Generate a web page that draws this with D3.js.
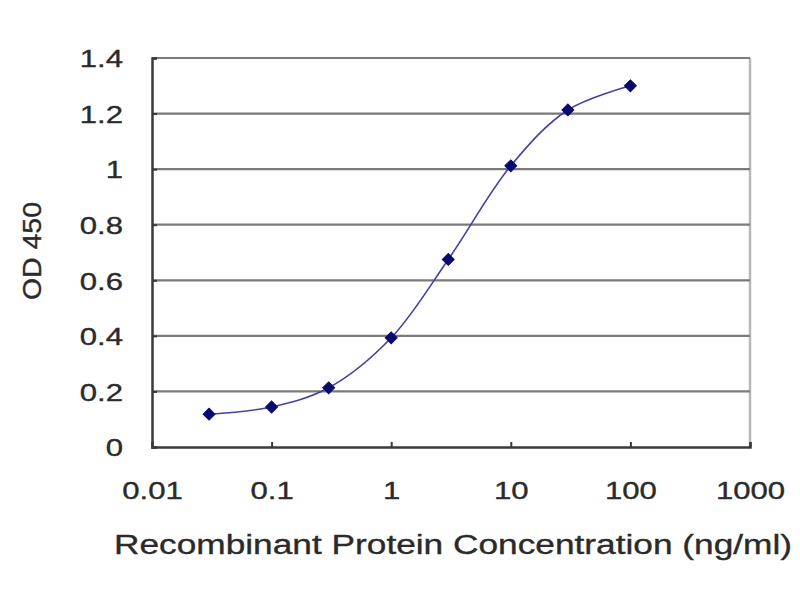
<!DOCTYPE html>
<html>
<head>
<meta charset="utf-8">
<script src="https://cdn.jsdelivr.net/npm/d3@7"></script>
<style>
  html, body { margin: 0; padding: 0; background: #fff; }
  svg text { font-family: "Liberation Sans", Arial, sans-serif; fill: #2a2a2a; }
</style>
</head>
<body>
<svg id="chart" width="800" height="600"></svg>
<script>
// Data
const concentrations = [0.03, 0.1, 0.3, 1, 3, 10, 30, 100];
const od450 = [0.118, 0.144, 0.213, 0.393, 0.675, 1.012, 1.213, 1.300];
const xTicks = [0.01, 0.1, 1, 10, 100, 1000];
const xTickLabels = ["0.01", "0.1", "1", "10", "100", "1000"];
const yTicks = [0, 0.2, 0.4, 0.6, 0.8, 1, 1.2, 1.4];
const yTickLabels = ["0", "0.2", "0.4", "0.6", "0.8", "1", "1.2", "1.4"];
const xTitle = "Recombinant Protein Concentration (ng/ml)";
const yTitle = "OD 450";

(function () {
const svg = d3.select("#chart");
const pLeft = 152, pRight = 750, pTop = 58, pBottom = 447;
const stretch = 1.27;
const tickFont = 24.5;

const x = d3.scaleLog().domain([0.01, 1000]).range([pLeft, pRight]);
const y = d3.scaleLinear().domain([0, 1.4]).range([pBottom, pTop]);

svg.append("rect").attr("width", 800).attr("height", 600).attr("fill", "#fff");

// plot border (right side, light gray)
svg.append("line")
  .attr("x1", pRight).attr("x2", pRight).attr("y1", pTop).attr("y2", pBottom)
  .attr("stroke", "#b8b8b8").attr("stroke-width", 2.5);

// gridlines
svg.append("g").selectAll("line").data(yTicks.filter(d => d > 0)).join("line")
  .attr("x1", pLeft).attr("x2", pRight)
  .attr("y1", d => y(d)).attr("y2", d => y(d))
  .attr("stroke", "#7a7a7a").attr("stroke-width", 2.2);

function styleText(sel) {
  sel.attr("font-size", tickFont)
    .attr("font-family", "Liberation Sans, Arial, sans-serif")
    .attr("fill", "#2e2e2e")
    .attr("stroke", "#2e2e2e")
    .attr("stroke-width", 0.35)
    .attr("transform", `scale(${stretch},1)`);
}

// Y axis
const yAxis = svg.append("g").attr("transform", `translate(${pLeft},0)`)
  .call(d3.axisLeft(y).tickValues(yTicks)
    .tickFormat((d, i) => yTickLabels[i]).tickSize(-5).tickPadding(29));
yAxis.select(".domain").attr("stroke", "#3a3a3a").attr("stroke-width", 2.5);
yAxis.selectAll(".tick line").attr("stroke", "#3a3a3a").attr("stroke-width", 2);
yAxis.selectAll(".tick text").call(styleText)
  .attr("x", -29 / stretch)
  .attr("dy", "0.36em");

// X axis
const xAxis = svg.append("g").attr("transform", `translate(0,${pBottom})`)
  .call(d3.axisBottom(x).tickValues(xTicks)
    .tickFormat((d, i) => xTickLabels[i]).tickSize(-5).tickPadding(35));
xAxis.select(".domain").attr("stroke", "#3a3a3a").attr("stroke-width", 2.5);
xAxis.selectAll(".tick line").attr("stroke", "#3a3a3a").attr("stroke-width", 2);
xAxis.selectAll(".tick text").call(styleText)
  .attr("y", 35)
  .attr("dy", "0.71em");

// Smoothed curve
const pts = concentrations.map((c, i) => [x(c), y(od450[i])]);
svg.append("path")
  .attr("d", d3.line().curve(d3.curveCatmullRom.alpha(0.5))(pts))
  .attr("fill", "none")
  .attr("stroke", "#4242a0")
  .attr("stroke-width", 1.6);

// Diamond markers
svg.append("g").selectAll("path").data(pts).join("path")
  .attr("transform", d => `translate(${d[0]},${d[1]}) rotate(45)`)
  .attr("d", "M-4.2,-4.2H4.2V4.2H-4.2Z")
  .attr("fill", "#0a0a6e")
  .attr("stroke", "#0a0a6e")
  .attr("stroke-width", 1);

// Axis titles
svg.append("text")
  .attr("x", 114).attr("y", 554)
  .attr("font-size", 27)
  .attr("fill", "#2e2e2e")
  .attr("stroke", "#2e2e2e")
  .attr("stroke-width", 0.35)
  .attr("textLength", 678)
  .attr("lengthAdjust", "spacingAndGlyphs")
  .text(xTitle);

svg.append("text")
  .attr("transform", "translate(41,251) rotate(-90)")
  .attr("text-anchor", "middle")
  .attr("font-size", 25)
  .attr("fill", "#2e2e2e")
  .attr("stroke", "#2e2e2e")
  .attr("stroke-width", 0.35)
  .attr("textLength", 98)
  .attr("lengthAdjust", "spacingAndGlyphs")
  .text(yTitle);
})();
</script>
</body>
</html>
